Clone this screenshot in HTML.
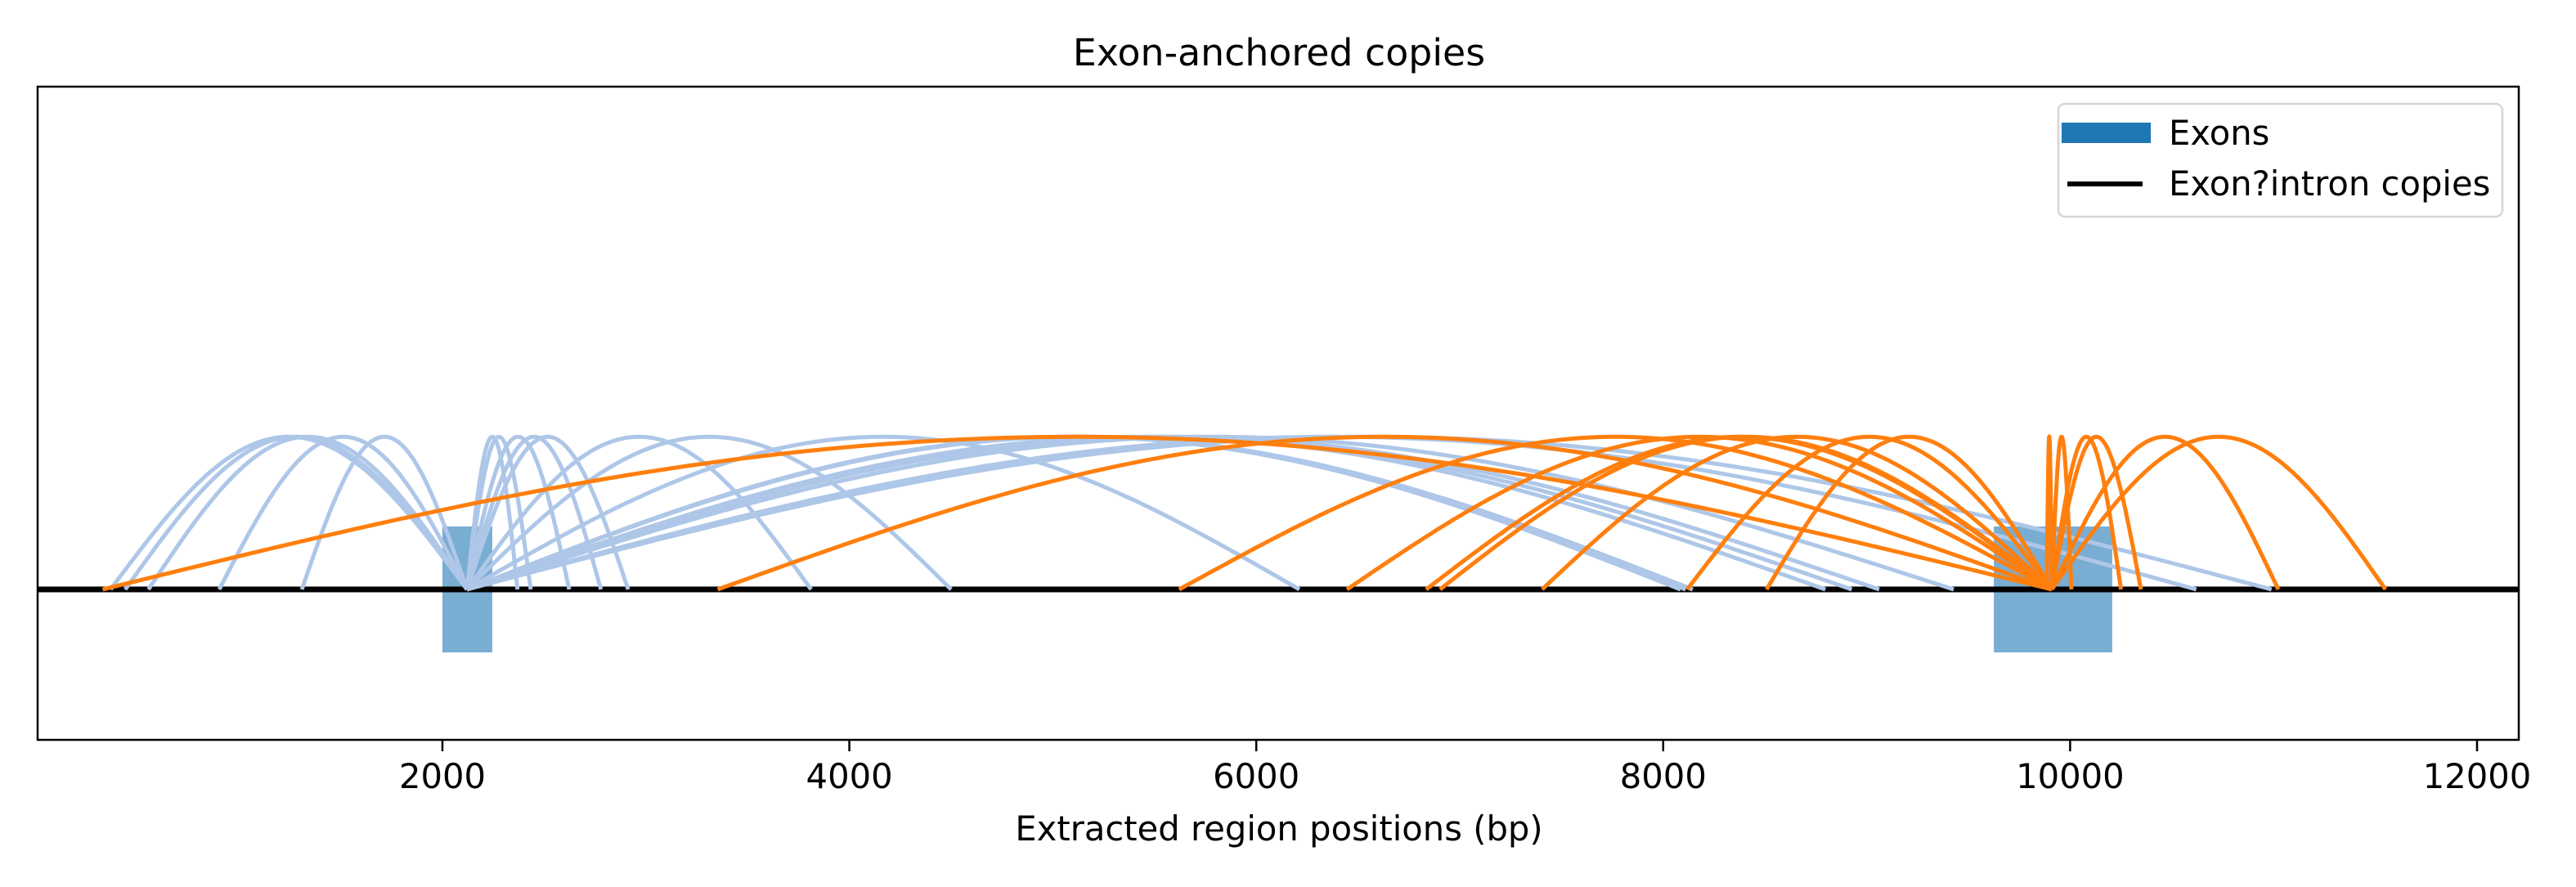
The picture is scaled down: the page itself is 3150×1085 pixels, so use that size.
<!DOCTYPE html>
<html><head><meta charset="utf-8"><style>
html,body{margin:0;padding:0;background:#fff}
svg text{font-family:"DejaVu Sans","Liberation Sans",sans-serif;fill:#000}
</style></head><body>
<svg id="chart" width="3150" height="1080" viewBox="0 0 3150 1080" xmlns="http://www.w3.org/2000/svg">
<rect x="0" y="0" width="3150" height="1080" fill="#fff"/>
<text x="1564" y="80" font-size="45.8" text-anchor="middle">Exon-anchored copies</text>
<g id="plot"></g>
<rect x="46" y="106" width="3034" height="799" fill="none" stroke="#000" stroke-width="2.5"/>
<g id="xticks"></g>
<text x="1564" y="1028" font-size="41.7" text-anchor="middle">Extracted region positions (bp)</text>
<g>
<rect x="2517" y="127" width="543" height="138" rx="8" fill="#fff" stroke="#d6d6d6" stroke-width="2.5"/>
<rect x="2521" y="150" width="109" height="25" fill="#1f77b4"/>
<text x="2652" y="177" font-size="41.7">Exons</text>
<line x1="2528" y1="225" x2="2620" y2="225" stroke="#000" stroke-width="6"/>
<text x="2652" y="239" font-size="41.7">Exon?intron copies</text>
</g>
</svg>
<script>
const exonStarts = [2000, 9625];
const exonEnds = [2245, 10207];
const blueAnchor = 2121;
const blueTargets = [369, 441, 555, 903, 1309, 2369, 2434, 2623, 2779, 2913, 3812, 4500, 6212, 8085, 8110, 8145, 8797, 8927, 9062, 9428, 10620, 10990];
const orangeAnchor = 9910;
const orangeTargets = [330, 3353, 5621, 6446, 6835, 6903, 7405, 8118, 8508, 9885, 10006, 10250, 10348, 11023, 11550];
const xTicks = [2000, 4000, 6000, 8000, 10000, 12000];
const arcHeight = 0.97;
const exonHalf = 0.4;

const NS = 'http://www.w3.org/2000/svg';
function X(v){ return 43.4 + v * 0.2488; }
function Y(v){ return 721 - v * 192.5; }
const plot = document.getElementById('plot');
function mk(tag, attrs){ const e = document.createElementNS(NS, tag); for (const k in attrs) e.setAttribute(k, attrs[k]); return e; }

exonStarts.forEach((s, i) => {
  const r = mk('rect', {x: X(s), y: Y(exonHalf), width: X(exonEnds[i]) - X(s), height: Y(-exonHalf) - Y(exonHalf), fill: '#79add2'});
  
  
  plot.appendChild(r);
});
const base = mk('line', {x1: 46, x2: 3080, y1: Y(0), y2: Y(0), stroke: '#000', 'stroke-width': 7});


plot.appendChild(base);

function arc(a, b, color, name){
  let d = '';
  for (let i = 0; i <= 100; i++){
    const t = i / 100;
    const v = a + (b - a) * t;
    const h = arcHeight * Math.sin(Math.PI * t);
    d += (i ? 'L' : 'M') + X(v).toFixed(1) + ' ' + Y(h).toFixed(1);
  }
  const p = mk('path', {d: d, fill: 'none', stroke: color, 'stroke-width': 5});
  
  
  plot.appendChild(p);
}
blueTargets.forEach(t => arc(blueAnchor, t, '#aec7e8', 'copy-arc-exon1'));
orangeTargets.forEach(t => arc(orangeAnchor, t, '#ff7f0e', 'copy-arc-exon2'));

const xt = document.getElementById('xticks');
xTicks.forEach(v => {
  const l = mk('line', {x1: X(v), x2: X(v), y1: 905, y2: 919, stroke: '#000', 'stroke-width': 2.5});
  
  
  xt.appendChild(l);
  const t = mk('text', {x: X(v), y: 964, 'font-size': 41.7, 'text-anchor': 'middle'});
  t.textContent = v;
  
  
  xt.appendChild(t);
});
</script>
</body></html>
